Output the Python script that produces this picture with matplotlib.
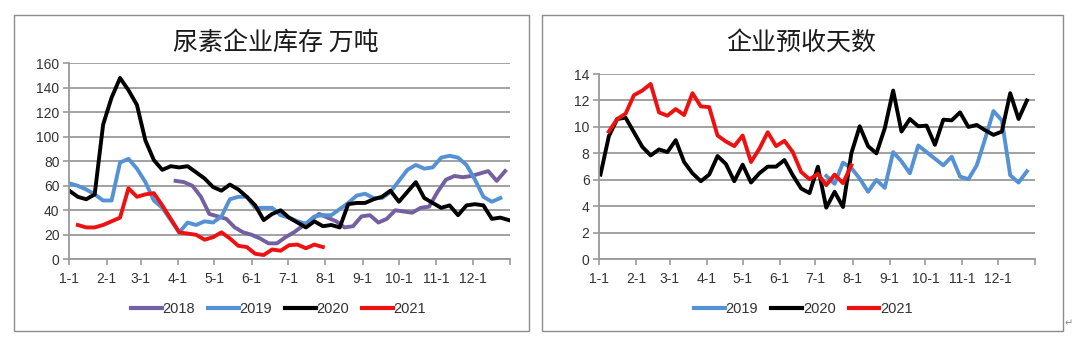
import numpy as np
import matplotlib.pyplot as plt
from matplotlib.patches import Rectangle
from matplotlib.lines import Line2D

plt.rcParams['font.family'] = ['Liberation Sans', 'Noto Sans CJK SC', 'DejaVu Sans']

# 月份刻度（一年中的天数）
month_days = [0, 31, 59, 90, 120, 151, 181, 212, 243, 273, 304, 334, 365]
month_labels = ['1-1', '2-1', '3-1', '4-1', '5-1', '6-1', '7-1', '8-1',
                '9-1', '10-1', '11-1', '12-1', '']

# 尿素企业库存 万吨（周度）
inv_2018 = [64, 63, 60, 51, 37, 35, 33, 26, 22, 20, 17, 13, 13, 18, 22, 27, 32, 37,
            34, 31, 26, 27, 35, 36, 30, 33, 40, 39, 38, 42, 43, 55, 65, 68, 67, 68,
            70, 72, 64, 72]
inv_2019 = [62, 60, 57, 53, 48, 48, 79, 82, 74, 63, 48, 42, 32,
            22, 30, 28, 31, 30, 35, 49, 51, 51,
            42, 42, 42, 36, 34, 31, 29, 35, 36, 36, 41,
            46, 52, 53.5, 50, 50, 55, 64, 73, 77, 74, 75, 83, 84.5, 83, 77, 65, 51, 47, 50]
inv_2020 = [56, 51, 49, 53, 110, 132, 148, 138, 126, 97, 81, 73, 76, 75, 76, 71, 66,
            59, 56, 61, 57, 51, 44, 32, 37, 40, 34, 30, 26, 31, 27, 28, 26, 45, 46,
            46, 49, 51, 56, 47, 55, 63, 50, 46, 42, 44, 36, 44, 45, 44, 33, 34, 32]
inv_2021 = [28, 26, 26, 28, 31, 34, 58, 51, 53, 54, 44, 33, 22, 21, 20, 16, 18, 22,
            17, 11, 10, 4.5, 3.5, 8, 7, 11.5, 12, 9, 12, 10]
inv_start = {'2018': 88, '2019': 0, '2020': 0, '2021': 7}

# 企业预收天数（周度）
days_2019 = [6.3, 5.7, 7.3, 6.9, 6.1, 5.1, 6.0, 5.4, 8.1, 7.4, 6.5, 8.6, 8.1, 7.6,
             7.1, 7.75, 6.25, 6.05, 7.1, 9.1, 11.2, 10.5, 6.35, 5.8, 6.65]
days_2020 = [6.4, 9.3, 10.6, 10.7, 9.6, 8.5, 7.85, 8.3, 8.1, 9.0, 7.35, 6.5, 5.9, 6.4,
             7.8, 7.2, 5.9, 7.15, 5.8, 6.5, 7.0, 7.0, 7.5, 6.35, 5.35, 5.0, 7.0, 3.9,
             5.1, 3.95, 8.0, 10.05, 8.55, 8.0, 9.9, 12.75, 9.65, 10.6, 10.05, 10.1,
             8.65, 10.55, 10.5, 11.1, 10.0, 10.15, 9.75, 9.4, 9.65, 12.55, 10.6, 12.0]
days_2021 = [9.65, 10.6, 11.0, 12.4, 12.75, 13.25, 11.1, 10.85, 11.35, 10.9, 12.55,
             11.55, 11.5, 9.35, 8.9, 8.55, 9.35, 7.35, 8.35, 9.6, 8.55, 8.95, 8.1,
             6.6, 6.05, 6.45, 5.6, 6.4, 5.75, 7.1]
days_start = {'2019': 190, '2020': 1, '2021': 8}

colors = {'2018': '#7360a0', '2019': '#5592d5', '2020': '#000000', '2021': '#ee1111'}
grid_c = '#9a9a9a'
text_c = '#333333'


def week_x(start, n):
    return start + 7 * np.arange(n)


def style_axes(ax, ymax, ystep):
    ax.set_xlim(0, 365)
    ax.set_ylim(0, ymax)
    ax.set_yticks(np.arange(0, ymax + 0.01, ystep))
    ax.set_xticks(month_days)
    ax.set_xticklabels(month_labels)
    ax.grid(axis='y', color=grid_c, linewidth=1.3)
    ax.set_axisbelow(True)
    for s in ['top', 'right']:
        ax.spines[s].set_visible(False)
    for s in ['left', 'bottom']:
        ax.spines[s].set_color(grid_c)
        ax.spines[s].set_linewidth(1.3)
    ax.tick_params(axis='both', colors=grid_c, labelcolor=text_c, labelsize=10,
                   length=4, width=1.2, direction='out')
    ax.tick_params(axis='x', pad=5)
    ax.tick_params(axis='y', pad=3)


fig = plt.figure(figsize=(10.8, 3.37), dpi=100)

# 外框
for x0, w in [(0.0134, 0.476), (0.5014, 0.4829)]:
    fig.add_artist(Rectangle((x0, 0.0178), w, 0.9377, transform=fig.transFigure,
                             fill=False, edgecolor='#8c8c8c', linewidth=1.0))

# 左图：尿素企业库存
ax1 = fig.add_axes([0.0642, 0.2306, 0.408, 0.5816])
for year, vals in [('2018', inv_2018), ('2019', inv_2019), ('2020', inv_2020), ('2021', inv_2021)]:
    ax1.plot(week_x(inv_start[year], len(vals)), vals, color=colors[year], lw=2.8,
             solid_joinstyle='round', label=year)
style_axes(ax1, 160, 20)
fig.text(0.255, 0.872, '尿素企业库存 万吨', ha='center', va='center', fontsize=18,
         color='#1a1a1a', family=['Noto Sans CJK SC', 'DejaVu Sans'])

# 右图：企业预收天数
ax2 = fig.add_axes([0.5549, 0.2306, 0.4037, 0.5498])
for year, vals in [('2019', days_2019), ('2020', days_2020), ('2021', days_2021)]:
    ax2.plot(week_x(days_start[year], len(vals)), vals, color=colors[year], lw=2.8,
             solid_joinstyle='round', label=year)
style_axes(ax2, 14, 2)
fig.text(0.7415, 0.872, '企业预收天数', ha='center', va='center', fontsize=18,
         color='#1a1a1a', family=['Noto Sans CJK SC', 'DejaVu Sans'])

# 图例
def make_legend(years, cx):
    handles = [Line2D([], [], color=colors[y], lw=3) for y in years]
    fig.legend(handles, years, loc='center', bbox_to_anchor=(cx, 0.083), ncol=len(years),
               frameon=False, fontsize=10.5, handlelength=2.1, handletextpad=0.05,
               columnspacing=0.9, labelcolor=text_c)

make_legend(['2018', '2019', '2020', '2021'], 0.258)
make_legend(['2019', '2020', '2021'], 0.744)

fig.text(0.989, 0.042, '\u21b5', ha='center', va='center', fontsize=7, color='#888888',
         family=['DejaVu Sans'])

fig.savefig('out.png', dpi=100)
